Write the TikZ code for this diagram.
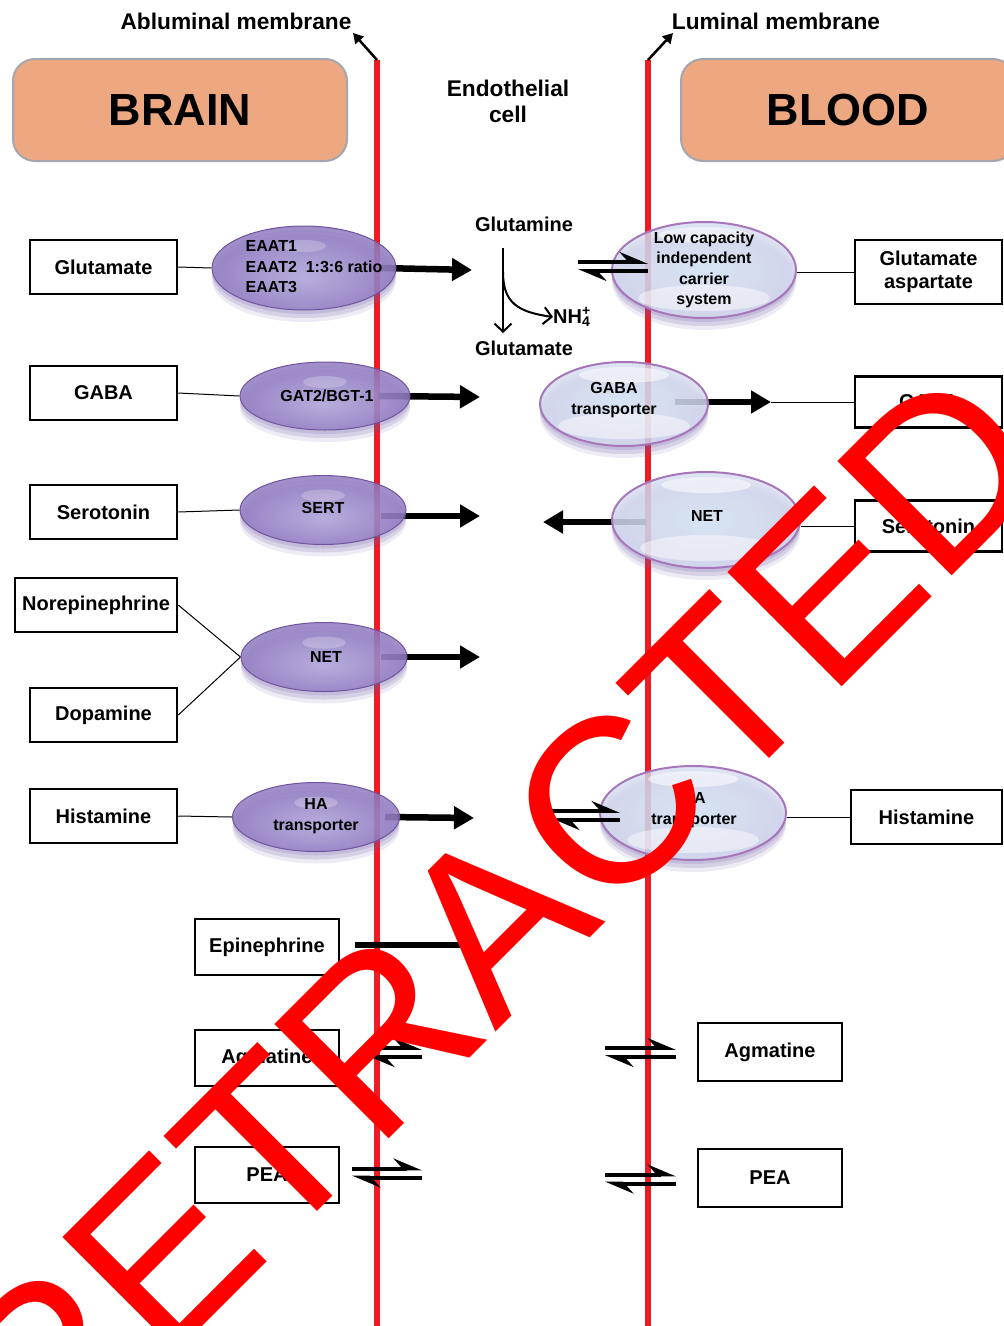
\documentclass[tikz,border=0pt]{standalone}
\usepackage{fontspec}
\setmainfont{Liberation Sans}
\usetikzlibrary{arrows.meta,shapes.geometric,shadows}

\definecolor{memred}{RGB}{237,28,36}
\definecolor{organfill}{RGB}{237,168,130}
\definecolor{organline}{RGB}{165,165,175}
\definecolor{lpA}{RGB}{184,170,222}
\definecolor{lpB}{RGB}{148,128,196}
\definecolor{lpC}{RGB}{112,84,160}
\definecolor{rbA}{RGB}{220,239,249}
\definecolor{rbB}{RGB}{212,216,238}
\definecolor{rbC}{RGB}{196,156,206}
\definecolor{rbD}{RGB}{166,118,186}
\definecolor{shadowc}{RGB}{110,90,165}

\pgfdeclareradialshading{lballshade}{\pgfpoint{0bp}{-6bp}}{color(0bp)=(lpA); color(22bp)=(lpB); color(50bp)=(lpC)}
\pgfdeclareradialshading{rballshade}{\pgfpoint{0bp}{0bp}}{color(0bp)=(rbA); color(30bp)=(rbB); color(50bp)=(rbC)}

\pgfdeclarelayer{bg}
\pgfsetlayers{bg,main}

\tikzset{
  box/.style={draw, line width=2.5pt, fill=white, minimum width=147pt, minimum height=54pt,
    inner sep=0pt, align=center, font=\fontsize{20}{23}\selectfont\bfseries},
  organ/.style={draw=organline, line width=2pt, fill=organfill, rounded corners=22pt,
    minimum width=334pt, minimum height=102pt, font=\fontsize{45}{50}\selectfont\bfseries},
  title/.style={align=center, inner sep=0pt, font=\fontsize{22.7}{26}\selectfont\bfseries},
  label/.style={align=center, inner sep=0pt, font=\fontsize{20}{24}\selectfont\bfseries},
  soft shadow/.style={
    drop shadow={shadow xshift=0pt, shadow yshift=-4pt, opacity=0.18, fill=shadowc},
    drop shadow={shadow xshift=0pt, shadow yshift=-8pt, opacity=0.18, fill=shadowc},
    drop shadow={shadow xshift=0pt, shadow yshift=-12pt, opacity=0.12, fill=shadowc}},
  lball/.style={ellipse, draw=lpC, line width=1pt, shade, shading=lballshade, fill opacity=0.84,
    soft shadow,
    path picture={\fill[white, opacity=0.22] ([yshift=-20pt]path picture bounding box.north)
      ellipse [x radius=22pt, y radius=6pt];}},
  rball/.style={ellipse, draw=rbD, line width=2pt, shade, shading=rballshade, fill opacity=0.8,
    soft shadow,
    path picture={\fill[white, opacity=0.55] ([yshift=-13pt]path picture bounding box.north)
      ellipse [x radius=45pt, y radius=8pt];
      \fill[white, opacity=0.45] ([yshift=20pt]path picture bounding box.south)
      ellipse [x radius=66pt, y radius=13pt];}},
  etext/.style={align=center, inner sep=0pt, font=\fontsize{16}{20.5}\selectfont\bfseries},
  memb/.style={memred, line width=6pt},
  thin/.style={line width=1pt},
  flow/.style={line width=6.5pt, -{Triangle[length=20pt, width=22pt]}},
  flowsmall/.style={line width=6pt, -{Triangle[length=16pt, width=14pt]}},
  harp/.style={line width=4pt, -{Stealth[left, length=24pt, width=20pt, inset=9pt]}},
  pointer/.style={line width=2.5pt, -{Triangle[length=10pt, width=11pt]}},
  split/.style={line width=2pt, -{Straight Barb[length=8pt, width=17pt]}},
  stamp/.style={text=red, rotate=45, inner sep=0pt, font=\fontsize{235}{240}\selectfont},
}

\newcommand{\eqarrows}[2]{%
  \draw[harp] ([yshift=4.5pt]#1) -- ([yshift=4.5pt]#2);
  \draw[harp] ([yshift=-4.5pt]#2) -- ([yshift=-4.5pt]#1);}

\begin{document}
\begin{tikzpicture}[x=1pt, y=-1pt]
    \useasboundingbox (0,0) rectangle (1004,1326);

    % membranes
    \coordinate (abtop) at (377,60);
    \coordinate (abbot) at (377,1330);
    \coordinate (lutop) at (648,60);
    \coordinate (lubot) at (648,1330);
    \coordinate (abtip) at (353,33);
    \coordinate (lutip) at (673,33);

    \node[title] (ablab) at (236,21) {Abluminal membrane};
    \node[title] (lulab) at (776,21) {Luminal membrane};
    \node[title] (endo) at (508,101) {Endothelial\\cell};

    \node[organ] (brain) at (180,110) {BRAIN};
    \node[organ] (blood) at (848,110) {BLOOD};

    % brain side
    \node[box] (gluL) at (103.5,267) {Glutamate};
    \node[box] (gabaL) at (103.5,393) {GABA};
    \node[box] (seroL) at (103.5,512) {Serotonin};
    \node[box, minimum width=162pt] (norL) at (96,605) {Norepinephrine};
    \node[box] (dopL) at (103.5,715) {Dopamine};
    \node[box] (histL) at (103.5,816) {Histamine};
    \node[box, minimum width=144pt, minimum height=56pt] (epiL) at (267,947) {Epinephrine};
    \node[box, minimum width=144pt, minimum height=56pt] (agmL) at (267,1058) {Agmatine};
    \node[box, minimum width=144pt, minimum height=56pt] (peaL) at (267,1175) {PEA};

    % blood side
    \node[box, minimum height=64pt] (gluR) at (928.5,272) {Glutamate\\aspartate};
    \node[box, minimum height=51pt] (gabaR) at (928.5,402) {GABA};
    \node[box, minimum height=51pt] (seroR) at (928.5,526) {Serotonin};
    \node[box, minimum width=151pt] (histR) at (926.5,817) {Histamine};
    \node[box, minimum width=144pt, minimum height=58pt] (agmR) at (770,1052) {Agmatine};
    \node[box, minimum width=144pt, minimum height=58pt] (peaR) at (770,1178) {PEA};

    % transporters
    \node[lball, minimum width=184pt, minimum height=84pt] (eaat) at (304,268) {};
    \node[lball, minimum width=170pt, minimum height=68pt] (gat) at (325,396) {};
    \node[lball, minimum width=166pt, minimum height=69pt] (sert) at (323,510) {};
    \node[lball, minimum width=166pt, minimum height=69pt] (netl) at (324,657) {};
    \node[lball, minimum width=167pt, minimum height=69pt] (hal) at (316,817) {};
    \node[rball, minimum width=184pt, minimum height=96pt] (lowcap) at (704,270) {};
    \node[rball, minimum width=168pt, minimum height=84pt] (gabat) at (624,404) {};
    \node[rball, minimum width=188pt, minimum height=96pt] (netr) at (706,520) {};
    \node[rball, minimum width=186pt, minimum height=94pt] (har) at (693,813) {};

    \node[etext, align=left] (eaatlab) at (314,267) {EAAT1\\EAAT2\ \ 1:3:6 ratio\\EAAT3};
    \node[etext] (gatlab) at (327,396) {GAT2/BGT-1};
    \node[etext] (sertlab) at (323,508) {SERT};
    \node[etext] (netllab) at (326,657) {NET};
    \node[etext] (hallab) at (316,816) {HA\\transporter};
    \node[etext] (lowcaplab) at (704,270) {Low capacity\\independent\\carrier\\system};
    \node[etext, font=\fontsize{16}{21}\selectfont\bfseries] (gabatlab) at (614,400) {GABA\\transporter};
    \node[etext] (netrlab) at (707,516) {NET};
    \node[etext] (harlab) at (694,810) {HA\\transporter};

    % glutamine split
    \node[label] (gln) at (524,224) {Glutamine};
    \node[label] (glt) at (524,348) {Glutamate};
    \node[label, anchor=west] (nh4) at (553,317) {NH\rlap{\textsuperscript{+}}\textsubscript{4}};
    \coordinate (splittop) at (503,248);
    \coordinate (splitbot) at (503,333);
    \coordinate (branch) at (503,272);

    % free ends
    \coordinate (eaattip) at (472,270);
    \coordinate (gattip) at (480,397);
    \coordinate (serttip) at (480,516);
    \coordinate (netltip) at (480,657);
    \coordinate (haltip) at (474,818);
    \coordinate (gabatip) at (771,402);
    \coordinate (netrtip) at (543,522);
    \coordinate (epitip) at (478,945);
    \coordinate (eqAl) at (578,266.5);
    \coordinate (eqAr) at (648,266.5);
    \coordinate (eqBl) at (551,815.5);
    \coordinate (eqBr) at (620,815.5);
    \coordinate (eqCl) at (366,1052.5);
    \coordinate (eqCr) at (422,1052.5);
    \coordinate (eqDl) at (605,1052.5);
    \coordinate (eqDr) at (676,1052.5);
    \coordinate (eqEl) at (352,1173);
    \coordinate (eqEr) at (422,1173);
    \coordinate (eqFl) at (605,1179);
    \coordinate (eqFr) at (676,1179);

    \begin{pgfonlayer}{bg}
        \draw[memb] (abtop) -- (abbot);
        \draw[memb] (lutop) -- (lubot);

        % thin links
        \draw[thin] (gluL.east) -- (eaat.west);
        \draw[thin] (gabaL.east) -- (gat.west);
        \draw[thin] (seroL.east) -- (sert.west);
        \draw[thin] (norL.east) -- (netl.west);
        \draw[thin] (dopL.east) -- (netl.west);
        \draw[thin] (histL.east) -- (hal.west);
        \draw[thin] (gluR.west) -- (gluR.west -| lowcap.east);
        \draw[thin] (seroR.west) -- (seroR.west -| netr.east);
        \draw[thin] (histR.west) -- (histR.west -| har.east);
        \draw[thin] (gabatip) -- (gabaR.west);

        % transport
        \draw[flow] ([xshift=-16pt]eaat.east) -- (eaattip);
        \draw[flow] ([xshift=-32pt]gat.east) -- (gattip);
        \draw[flow] ([xshift=-26pt, yshift=-6pt]sert.east) -- (serttip);
        \draw[flow] ([xshift=-27pt]netl.east) -- (netltip);
        \draw[flow] ([xshift=-15pt]hal.east) -- (haltip);
        \draw[flow] ([xshift=-34pt, yshift=2pt]gabat.east) -- (gabatip);
        \draw[flow] ([xshift=35pt, yshift=-2pt]netr.west) -- (netrtip);
    \end{pgfonlayer}

    \draw[flowsmall] ([xshift=15pt, yshift=2pt]epiL.east) -- (epitip);
    \eqarrows{eqAl}{eqAr}
    \eqarrows{eqBl}{eqBr}
    \eqarrows{eqCl}{eqCr}
    \eqarrows{eqDl}{eqDr}
    \eqarrows{eqEl}{eqEr}
    \eqarrows{eqFl}{eqFr}

    \draw[pointer] (abtop) -- (abtip);
    \draw[pointer] (lutop) -- (lutip);

    \draw[split] (splittop) -- (splitbot);
    \draw[split] (branch) .. controls (503,303) and (518,312) .. (nh4.west);

    % stamp
    \node[stamp] (retracted) at (494,920) {RETRACTED};
\end{tikzpicture}
\end{document}
